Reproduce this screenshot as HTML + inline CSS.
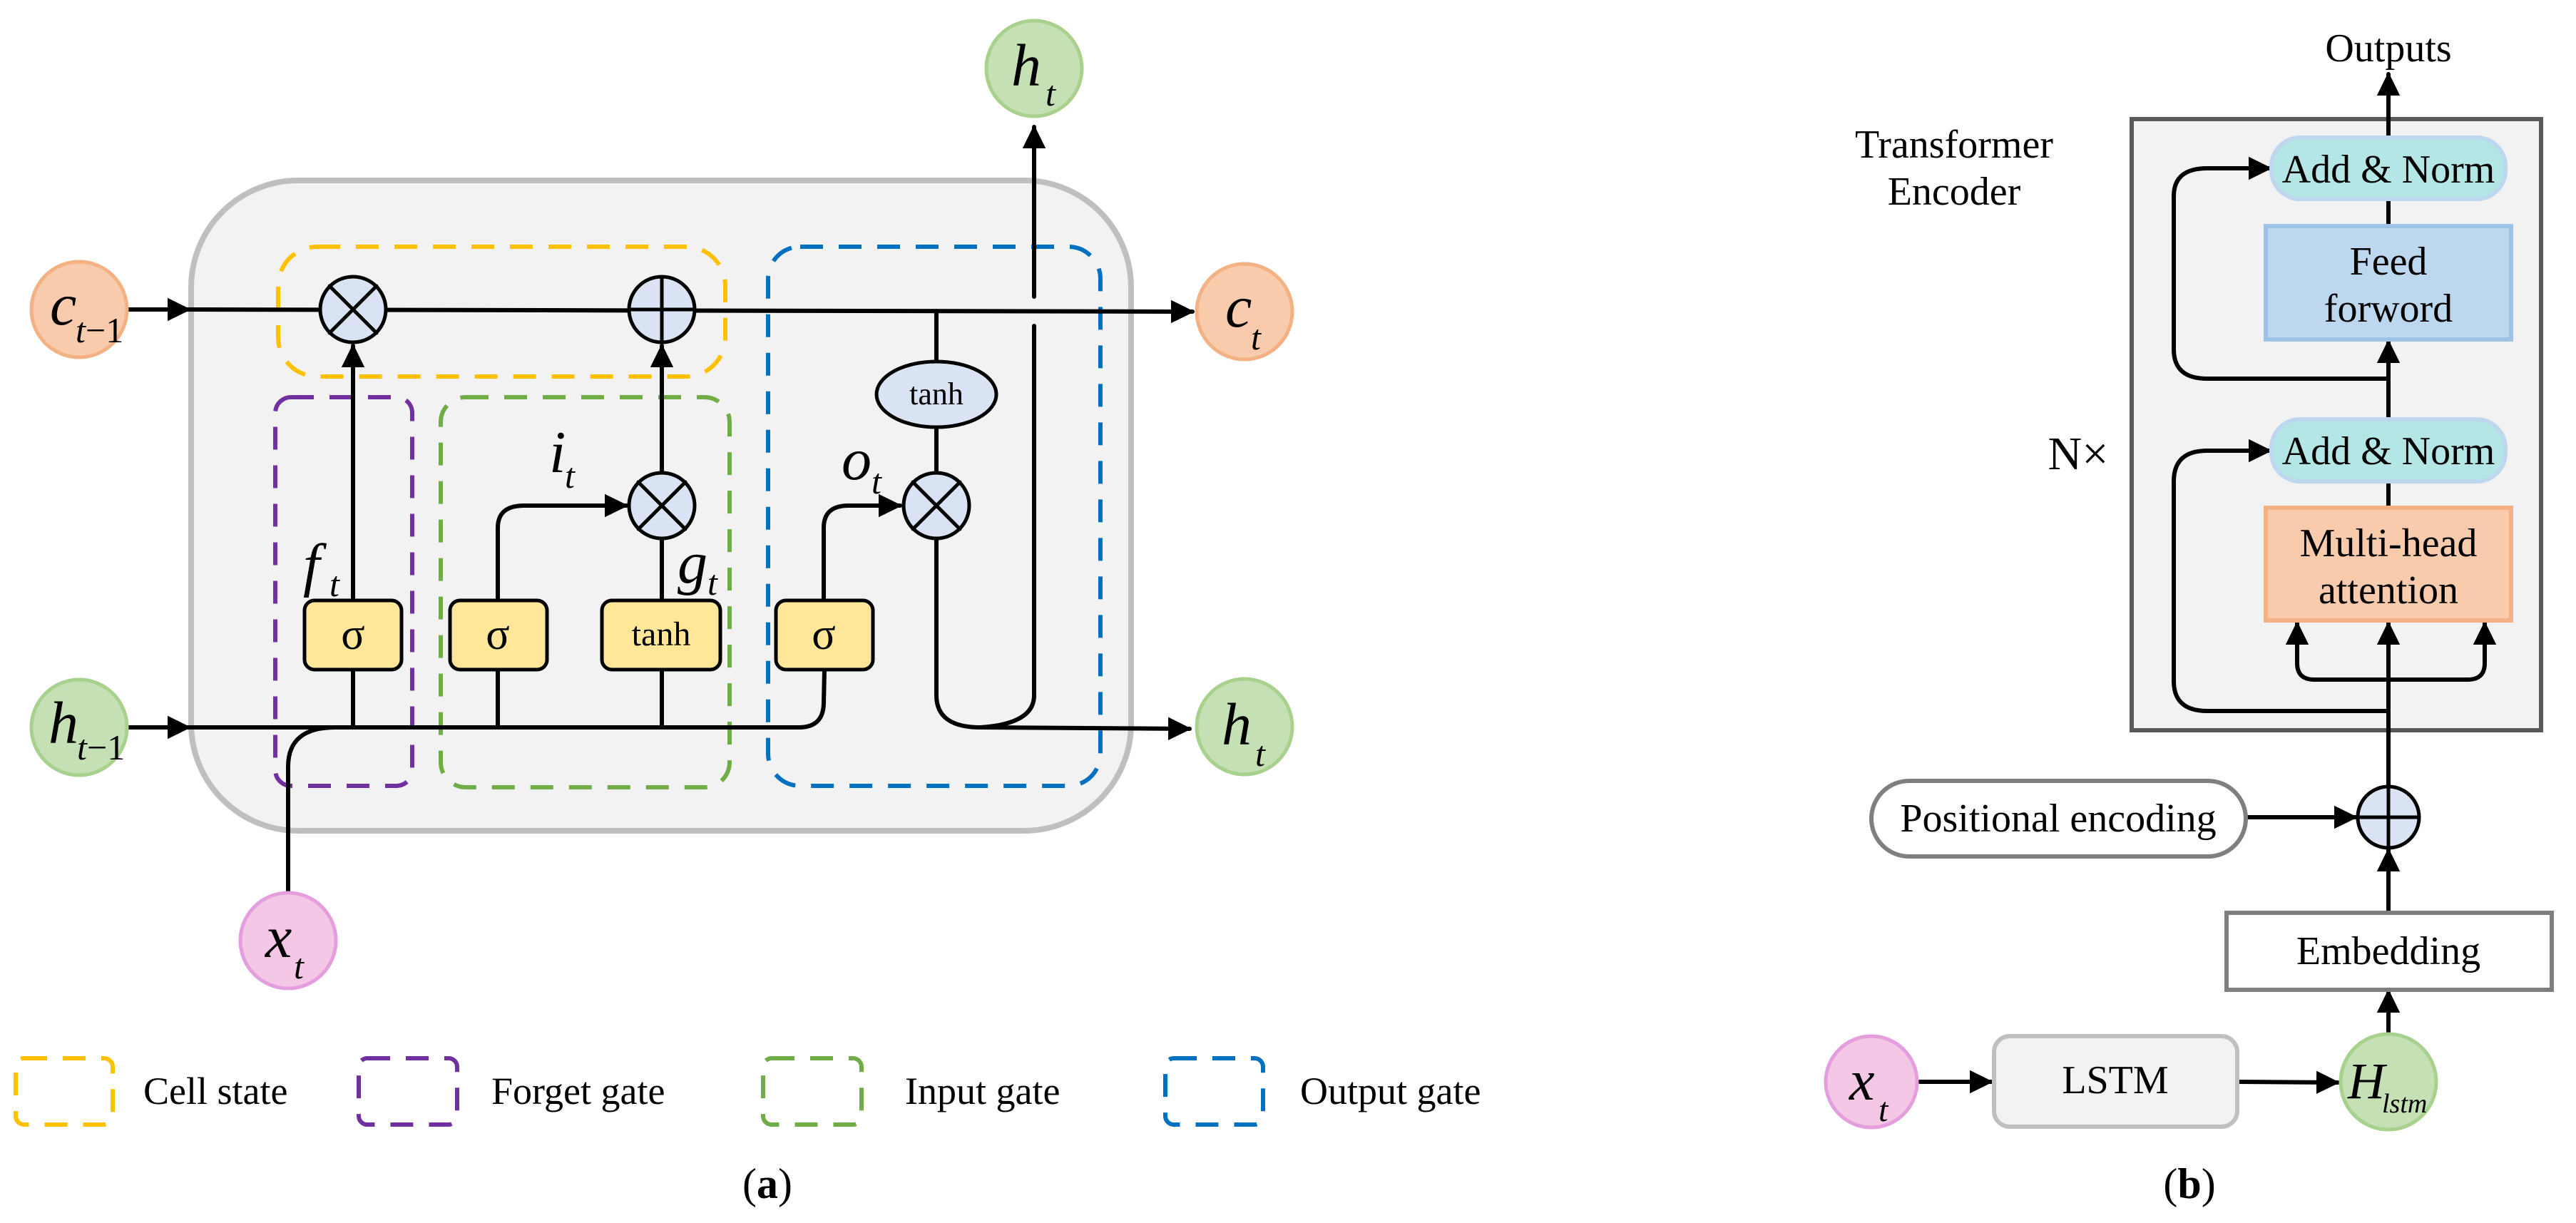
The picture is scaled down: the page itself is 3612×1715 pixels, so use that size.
<!DOCTYPE html>
<html><head><meta charset="utf-8"><style>
html,body{margin:0;padding:0;background:#fff}
svg{display:block}
svg text{font-family:"Liberation Serif","Times New Roman",Times,"DejaVu Serif",serif;fill:#000}
svg text.m{font-style:italic}
</style></head><body>
<svg width="3612" height="1715" viewBox="0 0 3612 1715" xmlns="http://www.w3.org/2000/svg">
<defs>
<marker id="a" markerWidth="6" markerHeight="6" refX="5" refY="3" orient="auto" markerUnits="strokeWidth"><path d="M0,0.3 L5.5,3 L0,5.7 z" fill="#000"/></marker>
</defs>
<g stroke-linecap="round">
<rect x="268" y="253" width="1318" height="912" rx="150" fill="#f2f2f2" stroke="#bfbfbf" stroke-width="8"/>
<g fill="none" stroke-width="6" stroke-dasharray="32,22" stroke-linecap="butt">
<rect x="390" y="346" width="627" height="182" rx="55" stroke="#ffc000"/>
<rect x="386" y="557" width="192" height="545" rx="22" stroke="#7030a0"/>
<rect x="618" y="557" width="405" height="547" rx="35" stroke="#70ad47"/>
<rect x="1077" y="346" width="466" height="756" rx="45" stroke="#0070c0"/>
</g>
<g fill="none" stroke="#000" stroke-width="6">
<line x1="180" y1="434" x2="265" y2="434" marker-end="url(#a)"/>
<line x1="180" y1="1020" x2="265" y2="1020" marker-end="url(#a)"/>
<line x1="265" y1="434" x2="1672" y2="437" marker-end="url(#a)"/>
<line x1="265" y1="1020" x2="1120" y2="1020"/>
<path d="M1120,1020 Q1155,1020 1155,985 L1156,940"/>
<path d="M404,1250 L404,1075 Q404,1020 470,1020 L494,1020"/>
<line x1="495" y1="1020" x2="495" y2="941"/>
<line x1="698" y1="1020" x2="698" y2="941"/>
<line x1="928" y1="1020" x2="928" y2="941"/>
<line x1="495" y1="842" x2="495" y2="485" marker-end="url(#a)"/>
<line x1="928" y1="842" x2="928" y2="756"/>
<line x1="928" y1="663" x2="928" y2="485" marker-end="url(#a)"/>
<path d="M698,842 L698,740 Q698,709 735,709 L878,709" marker-end="url(#a)"/>
<path d="M1155,842 L1155,740 Q1155,709 1190,709 L1262,709" marker-end="url(#a)"/>
<line x1="1313" y1="436" x2="1313" y2="506"/>
<line x1="1313" y1="600" x2="1313" y2="663"/>
<path d="M1313,755 L1313,975 Q1313,1020 1375,1020 L1668,1022" marker-end="url(#a)"/>
<path d="M1375,1020 Q1450,1015 1450,975 L1450,457"/>
<line x1="1450" y1="416" x2="1450" y2="178" marker-end="url(#a)"/>
</g>
<g stroke="#000" stroke-width="5" fill="#dae3f3">
<circle cx="495" cy="434" r="46"/><line x1="462" y1="401" x2="528" y2="467"/><line x1="528" y1="401" x2="462" y2="467"/>
<circle cx="928" cy="434" r="46"/><line x1="882" y1="434" x2="974" y2="434"/><line x1="928" y1="388" x2="928" y2="480"/>
<circle cx="928" cy="709" r="46"/><line x1="895" y1="676" x2="961" y2="742"/><line x1="961" y1="676" x2="895" y2="742"/>
<circle cx="1313" cy="709" r="46"/><line x1="1280" y1="676" x2="1346" y2="742"/><line x1="1346" y1="676" x2="1280" y2="742"/>
<ellipse cx="1313" cy="553" rx="84" ry="46"/>
</g>
<g stroke="#000" stroke-width="5" fill="#ffe699">
<rect x="427" y="842" width="136" height="97" rx="14"/>
<rect x="631" y="842" width="136" height="97" rx="14"/>
<rect x="844" y="842" width="166" height="97" rx="14"/>
<rect x="1088" y="842" width="136" height="97" rx="14"/>
</g>
<g stroke-width="5">
<circle cx="111" cy="434" r="67" fill="#f8cbad" stroke="#f4b183"/>
<circle cx="111" cy="1020" r="67" fill="#c5e0b4" stroke="#a9d18e"/>
<circle cx="404" cy="1319" r="67" fill="#f4c7e6" stroke="#e59edd"/>
<circle cx="1450" cy="96" r="67" fill="#c5e0b4" stroke="#a9d18e"/>
<circle cx="1745" cy="437" r="67" fill="#f8cbad" stroke="#f4b183"/>
<circle cx="1745" cy="1019" r="67" fill="#c5e0b4" stroke="#a9d18e"/>
</g>
</g>
<g font-size="62" text-anchor="middle">
<text x="495" y="910">σ</text><text x="698" y="910">σ</text><text x="1155" y="910">σ</text>
</g>
<text x="927" y="905" font-size="48" text-anchor="middle">tanh</text>
<text x="1313" y="567" font-size="44" text-anchor="middle">tanh</text>
<text x="70" y="455" font-size="84" class="m">c</text><text x="106" y="480" font-size="50" class="m">t</text><text x="120" y="480" font-size="50">−1</text>
<text x="68" y="1042" font-size="84" class="m">h</text><text x="108" y="1065" font-size="50" class="m">t</text><text x="122" y="1065" font-size="50">−1</text>
<text x="372" y="1342" font-size="84" class="m">x</text><text x="412" y="1372" font-size="50" class="m">t</text>
<text x="1418" y="120" font-size="84" class="m">h</text><text x="1466" y="148" font-size="50" class="m">t</text>
<text x="1718" y="458" font-size="84" class="m">c</text><text x="1754" y="490" font-size="50" class="m">t</text>
<text x="1713" y="1044" font-size="84" class="m">h</text><text x="1760" y="1074" font-size="50" class="m">t</text>
<text x="425" y="820" font-size="84" class="m">f</text><text x="462" y="836" font-size="50" class="m">t</text>
<text x="770" y="662" font-size="84" class="m">i</text><text x="792" y="684" font-size="50" class="m">t</text>
<text x="950" y="817" font-size="84" class="m">g</text><text x="992" y="834" font-size="50" class="m">t</text>
<text x="1180" y="672" font-size="84" class="m">o</text><text x="1222" y="692" font-size="50" class="m">t</text>
<g fill="none" stroke-width="6" stroke-dasharray="32,22">
<rect x="22" y="1484" width="136" height="93" rx="12" stroke="#ffc000"/>
<rect x="503" y="1484" width="138" height="93" rx="12" stroke="#7030a0"/>
<rect x="1070" y="1484" width="138" height="93" rx="12" stroke="#70ad47"/>
<rect x="1634" y="1484" width="137" height="93" rx="12" stroke="#0070c0"/>
</g>
<g font-size="54">
<text x="201" y="1548">Cell state</text>
<text x="689" y="1548">Forget gate</text>
<text x="1269" y="1548">Input gate</text>
<text x="1823" y="1548">Output gate</text>
</g>
<text x="1076" y="1680" font-size="60" text-anchor="middle">(<tspan font-weight="bold">a</tspan>)</text>
<text x="3070" y="1680" font-size="60" text-anchor="middle">(<tspan font-weight="bold">b</tspan>)</text>
<rect x="2989" y="167" width="574" height="857" fill="#f2f2f2" stroke="#595959" stroke-width="6"/>
<g fill="none" stroke="#000" stroke-width="6" stroke-linecap="round">
<line x1="3349" y1="1280" x2="3349" y2="1192" marker-end="url(#a)"/>
<line x1="3149" y1="1146" x2="3303" y2="1146" marker-end="url(#a)"/>
<line x1="3349" y1="1100" x2="3349" y2="874" marker-end="url(#a)"/>
<path d="M3349,997 L3095,997 Q3048,997 3048,955 L3048,675 Q3048,632 3095,632 L3183,632" marker-end="url(#a)"/>
<path d="M3349,953 L3245,953 Q3221,953 3221,930 L3221,874" marker-end="url(#a)"/>
<path d="M3349,953 L3460,953 Q3484,953 3484,930 L3484,874" marker-end="url(#a)"/>
<line x1="3349" y1="675" x2="3349" y2="712"/>
<line x1="3349" y1="587" x2="3349" y2="479" marker-end="url(#a)"/>
<path d="M3349,531 L3095,531 Q3048,531 3048,490 L3048,275 Q3048,236 3095,236 L3183,236" marker-end="url(#a)"/>
<line x1="3349" y1="279" x2="3349" y2="316"/>
<line x1="3349" y1="192" x2="3349" y2="104" marker-end="url(#a)"/>
<line x1="2692" y1="1517" x2="2792" y2="1517" marker-end="url(#a)"/>
<line x1="3137" y1="1517" x2="3278" y2="1518" marker-end="url(#a)"/>
<line x1="3349" y1="1447" x2="3349" y2="1390" marker-end="url(#a)"/>
</g>
<rect x="3185" y="193" width="328" height="86" rx="40" fill="#b4e6e6" stroke="#bdd7ee" stroke-width="6"/>
<rect x="3185" y="588" width="328" height="87" rx="40" fill="#b4e6e6" stroke="#bdd7ee" stroke-width="6"/>
<rect x="3177" y="317" width="344" height="159" fill="#bdd7ee" stroke="#9dc3e6" stroke-width="6"/>
<rect x="3177" y="712" width="344" height="158" fill="#f8cbad" stroke="#f4b183" stroke-width="6"/>
<rect x="2624" y="1095" width="525" height="106" rx="53" fill="#fff" stroke="#7f7f7f" stroke-width="6"/>
<rect x="3122" y="1280" width="456" height="108" fill="#fff" stroke="#7f7f7f" stroke-width="6"/>
<rect x="2796" y="1453" width="341" height="127" rx="22" fill="#f2f2f2" stroke="#bfbfbf" stroke-width="6"/>
<g stroke="#000" stroke-width="5"><circle cx="3349" cy="1146" r="43" fill="#dae3f3"/><line x1="3306" y1="1146" x2="3392" y2="1146"/><line x1="3349" y1="1103" x2="3349" y2="1189"/></g>
<circle cx="2624" cy="1517" r="64" fill="#f4c7e6" stroke="#e59edd" stroke-width="5"/>
<circle cx="3349" cy="1517" r="67" fill="#c5e0b4" stroke="#a9d18e" stroke-width="5"/>
<g font-size="56" text-anchor="middle">
<text x="3349" y="86">Outputs</text>
<text x="2740" y="221">Transformer</text>
<text x="2740" y="287">Encoder</text>
<text x="3349" y="256">Add &amp; Norm</text>
<text x="3349" y="651">Add &amp; Norm</text>
<text x="3349" y="385">Feed</text>
<text x="3349" y="451">forword</text>
<text x="3349" y="780">Multi-head</text>
<text x="3349" y="846">attention</text>
<text x="2886" y="1166">Positional encoding</text>
<text x="3349" y="1352">Embedding</text>
<text x="2966" y="1533">LSTM</text>
</g>
<text x="2914" y="658" font-size="66" text-anchor="middle">N×</text>
<text x="2593" y="1542" font-size="80" class="m">x</text><text x="2634" y="1572" font-size="48" class="m">t</text>
<text x="3292" y="1540" font-size="72" class="m">H</text><text x="3340" y="1560" font-size="38" class="m">lstm</text>
</svg>
</body></html>
